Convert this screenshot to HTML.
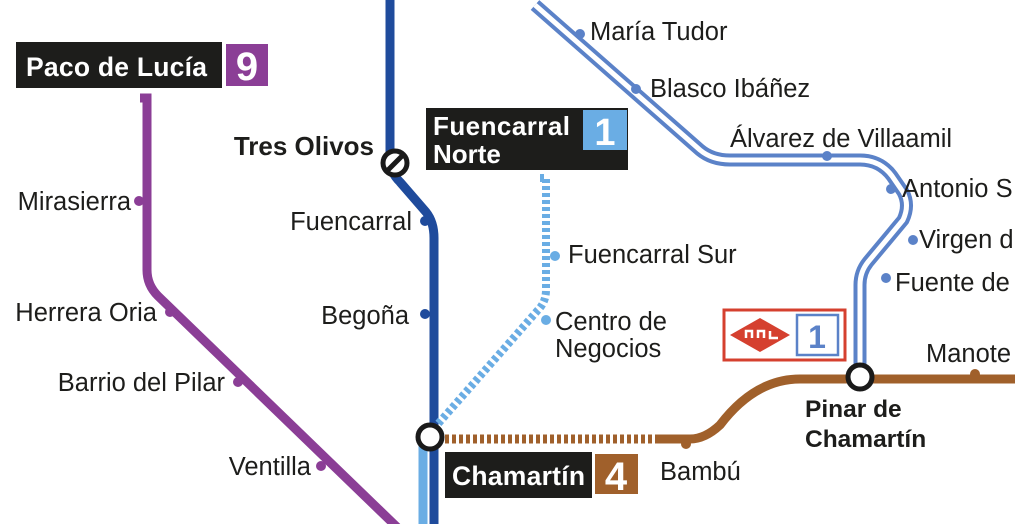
<!DOCTYPE html>
<html><head><meta charset="utf-8"><style>
html,body{margin:0;padding:0;background:#fff;}
svg{display:block;}
text{font-family:"Liberation Sans",Arial,sans-serif;}
</style></head><body>
<svg width="1015" height="524" viewBox="0 0 1015 524" xmlns="http://www.w3.org/2000/svg">
<g fill="none" stroke-linejoin="round">
<path d="M535,5 L700,150 Q712,160 730,160 L860,160 Q880,160 892,176 L903,192 Q910,205 903,220 L868,262 Q860,272 860,285 L860,372" stroke="#5b82c8" stroke-width="13"/>
<path d="M535,5 L700,150 Q712,160 730,160 L860,160 Q880,160 892,176 L903,192 Q910,205 903,220 L868,262 Q860,272 860,285 L860,372" stroke="#fff" stroke-width="5"/>
</g>
<g fill="#5b82c8">
<circle cx="580" cy="34" r="5"/><circle cx="636" cy="89" r="5"/><circle cx="827" cy="156" r="5"/>
<circle cx="891" cy="189" r="5"/><circle cx="913" cy="240" r="5"/><circle cx="886" cy="278" r="5"/>
</g>
<path d="M140,98 L147,98 L147,270 Q147,285 158,296 L400,530" fill="none" stroke="#8b3e96" stroke-width="9"/>
<g fill="#8b3e96"><circle cx="139" cy="201" r="5"/><circle cx="170" cy="312" r="5"/><circle cx="238" cy="382" r="5"/><circle cx="321" cy="466" r="5"/></g>
<path d="M423,437 L423,524" stroke="#6aade4" stroke-width="9" fill="none"/>
<path d="M390,0 L390,160 Q390,172 400,182 L426,212 Q434,222 434,238 L434,524" fill="none" stroke="#1f4b9c" stroke-width="9"/>
<g fill="#1f4b9c"><circle cx="425" cy="221" r="5"/><circle cx="425" cy="314" r="5"/></g>
<path d="M540,178 L546,178 L546,290 Q546,302 538,310 L437,425" fill="none" stroke="#6aade4" stroke-width="8" stroke-dasharray="4,3"/>
<circle cx="555" cy="256" r="5" fill="#6aade4"/><circle cx="546" cy="320" r="5" fill="#6aade4"/>
<path d="M445,439 L660,439" stroke="#a0602b" stroke-width="9" stroke-dasharray="4,3" fill="none"/>
<path d="M658,439 L690,439 Q705,439 720,425 Q755,379 800,379 L1015,379" stroke="#a0602b" stroke-width="9" fill="none"/>
<circle cx="686" cy="444" r="5" fill="#a0602b"/><circle cx="975" cy="374" r="5" fill="#a0602b"/>
<circle cx="430" cy="437" r="12" fill="#fff" stroke="#1a1a1a" stroke-width="5"/>
<circle cx="860" cy="377" r="12" fill="#fff" stroke="#1a1a1a" stroke-width="5"/>
<circle cx="395" cy="163" r="12" fill="#fff" stroke="#1a1a1a" stroke-width="5"/>
<line x1="388" y1="170" x2="402" y2="156" stroke="#1a1a1a" stroke-width="5"/>
<rect x="16" y="42" width="206" height="46" fill="#1d1d1b"/>
<rect x="226" y="44" width="42" height="42" fill="#8b3e96"/>
<text x="26" y="76" font-size="26.5" font-weight="bold" fill="#fff" textLength="181">Paco de Lucía</text>
<text x="247" y="80" font-size="40" font-weight="bold" fill="#fff" text-anchor="middle">9</text>
<rect x="426" y="108" width="202" height="62" fill="#1d1d1b"/>
<rect x="583" y="110" width="44" height="40" fill="#6aade4"/>
<text x="433" y="135" font-size="26" font-weight="bold" fill="#fff" textLength="137">Fuencarral</text>
<text x="433" y="163" font-size="26" font-weight="bold" fill="#fff">Norte</text>
<text x="605" y="145" font-size="38" font-weight="bold" fill="#fff" text-anchor="middle">1</text>
<rect x="445" y="452" width="147" height="46" fill="#1d1d1b"/>
<rect x="595" y="454" width="43" height="40" fill="#a0602b"/>
<text x="452" y="485" font-size="26.5" font-weight="bold" fill="#fff" textLength="133">Chamartín</text>
<text x="616" y="490" font-size="40" font-weight="bold" fill="#fff" text-anchor="middle">4</text>
<rect x="724" y="310" width="121" height="50" fill="#fff" stroke="#d5402f" stroke-width="3"/>
<path d="M730,335 L760,318 L790,335 L760,352 Z" fill="#d5402f"/>
<path d="M746,338 L746,331 L752,331 L752,338 M758,338 L758,331 L764,331 L764,338 M770,331 L770,338 L778,338" stroke="#fff" stroke-width="2.5" fill="none"/>
<rect x="797" y="315" width="41" height="40" fill="#fff" stroke="#5b82c8" stroke-width="2.5"/>
<text x="817" y="348" font-size="32" font-weight="bold" fill="#5b82c8" text-anchor="middle">1</text>
<g font-size="25.5" fill="#1d1d1b">
<text x="590" y="40">María Tudor</text>
<text x="650" y="97">Blasco Ibáñez</text>
<text x="730" y="147">Álvarez de Villaamil</text>
<text x="902" y="197">Antonio S</text>
<text x="919" y="248">Virgen d</text>
<text x="895" y="291">Fuente de</text>
<text x="926" y="362">Manote</text>
<text x="131" y="210" text-anchor="end">Mirasierra</text>
<text x="157" y="321" text-anchor="end">Herrera Oria</text>
<text x="225" y="391" text-anchor="end">Barrio del Pilar</text>
<text x="311" y="475" text-anchor="end">Ventilla</text>
<text x="412" y="230" text-anchor="end">Fuencarral</text>
<text x="409" y="324" text-anchor="end">Begoña</text>
<text x="568" y="263">Fuencarral Sur</text>
<text x="555" y="330">Centro de</text>
<text x="555" y="357">Negocios</text>
<text x="660" y="480">Bambú</text>
</g>
<g font-size="24.5" font-weight="bold" fill="#1d1d1b">
<text x="374" y="155" text-anchor="end" font-size="26">Tres Olivos</text>
<text x="805" y="417">Pinar de</text>
<text x="805" y="447">Chamartín</text>
</g>
</svg>
</body></html>
